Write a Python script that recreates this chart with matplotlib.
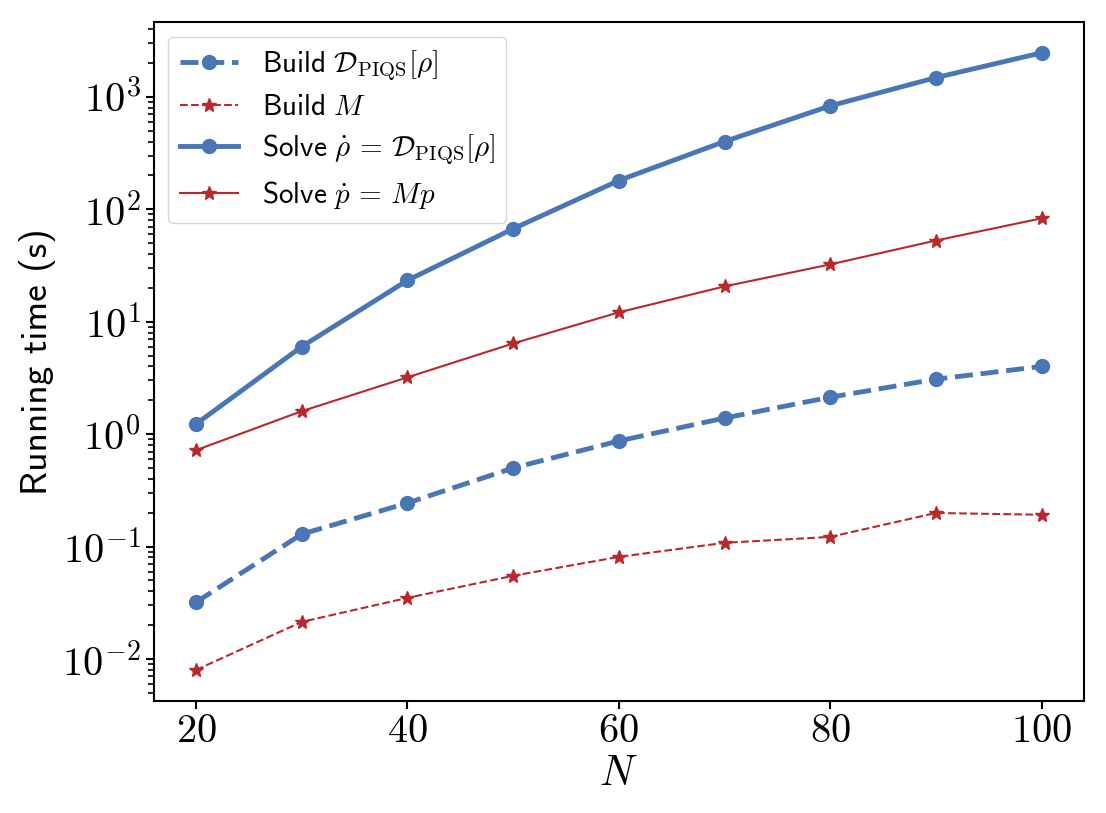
import numpy as np
import matplotlib
matplotlib.use('Agg')
import matplotlib.pyplot as plt

plt.rcParams['mathtext.fontset'] = 'cm'
plt.rcParams['font.family'] = 'serif'
plt.rcParams['font.serif'] = ['cmr10']
plt.rcParams['axes.formatter.use_mathtext'] = True

# system size
N = [20, 30, 40, 50, 60, 70, 80, 90, 100]

# running times in seconds
build_piqs = [0.032, 0.129, 0.244, 0.50, 0.87, 1.39, 2.13, 3.08, 4.0]
build_m = [0.008, 0.0214, 0.035, 0.055, 0.081, 0.108, 0.122, 0.199, 0.192]
solve_piqs = [1.23, 6.0, 23.3, 67, 180, 400, 830, 1480, 2460]
solve_m = [0.72, 1.6, 3.2, 6.4, 12.1, 20.6, 32.3, 52.7, 83]

blue = '#4876b6'
red = '#b8282d'

fig, ax = plt.subplots(figsize=(11.06, 8.13), dpi=100)
fig.subplots_adjust(left=0.139, right=0.980, top=0.973, bottom=0.138)

ax.plot(N, build_piqs, '--o', color=blue, lw=3.5, ms=10,
        label=r'$\mathsf{Build}\ \mathcal{D}_{\mathrm{PIQS}}[\rho]$')
ax.plot(N, build_m, '--*', color=red, lw=1.5, ms=10,
        label=r'$\mathsf{Build}\ M$')
ax.plot(N, solve_piqs, '-o', color=blue, lw=3.5, ms=10,
        label=r'$\mathsf{Solve}\ \dot{\rho}\,=\,\mathcal{D}_{\mathrm{PIQS}}[\rho]$')
ax.plot(N, solve_m, '-*', color=red, lw=1.5, ms=10,
        label=r'$\mathsf{Solve}\ \dot{p}\,=\,Mp$')

ax.set_yscale('log')
ax.set_xticks([20, 40, 60, 80, 100])
ax.tick_params(labelsize=29, width=1.5, length=6)
ax.tick_params(which='minor', width=1.2, length=4)
for s in ax.spines.values():
    s.set_linewidth(1.5)

ax.set_xlabel(r'$N$', fontsize=30)
ax.set_ylabel('Running time (s)', fontsize=27, family='cmss10')

ax.legend(loc='upper left', prop={'size': 21}, labelspacing=0.4)

fig.savefig('out.png', dpi=100)
